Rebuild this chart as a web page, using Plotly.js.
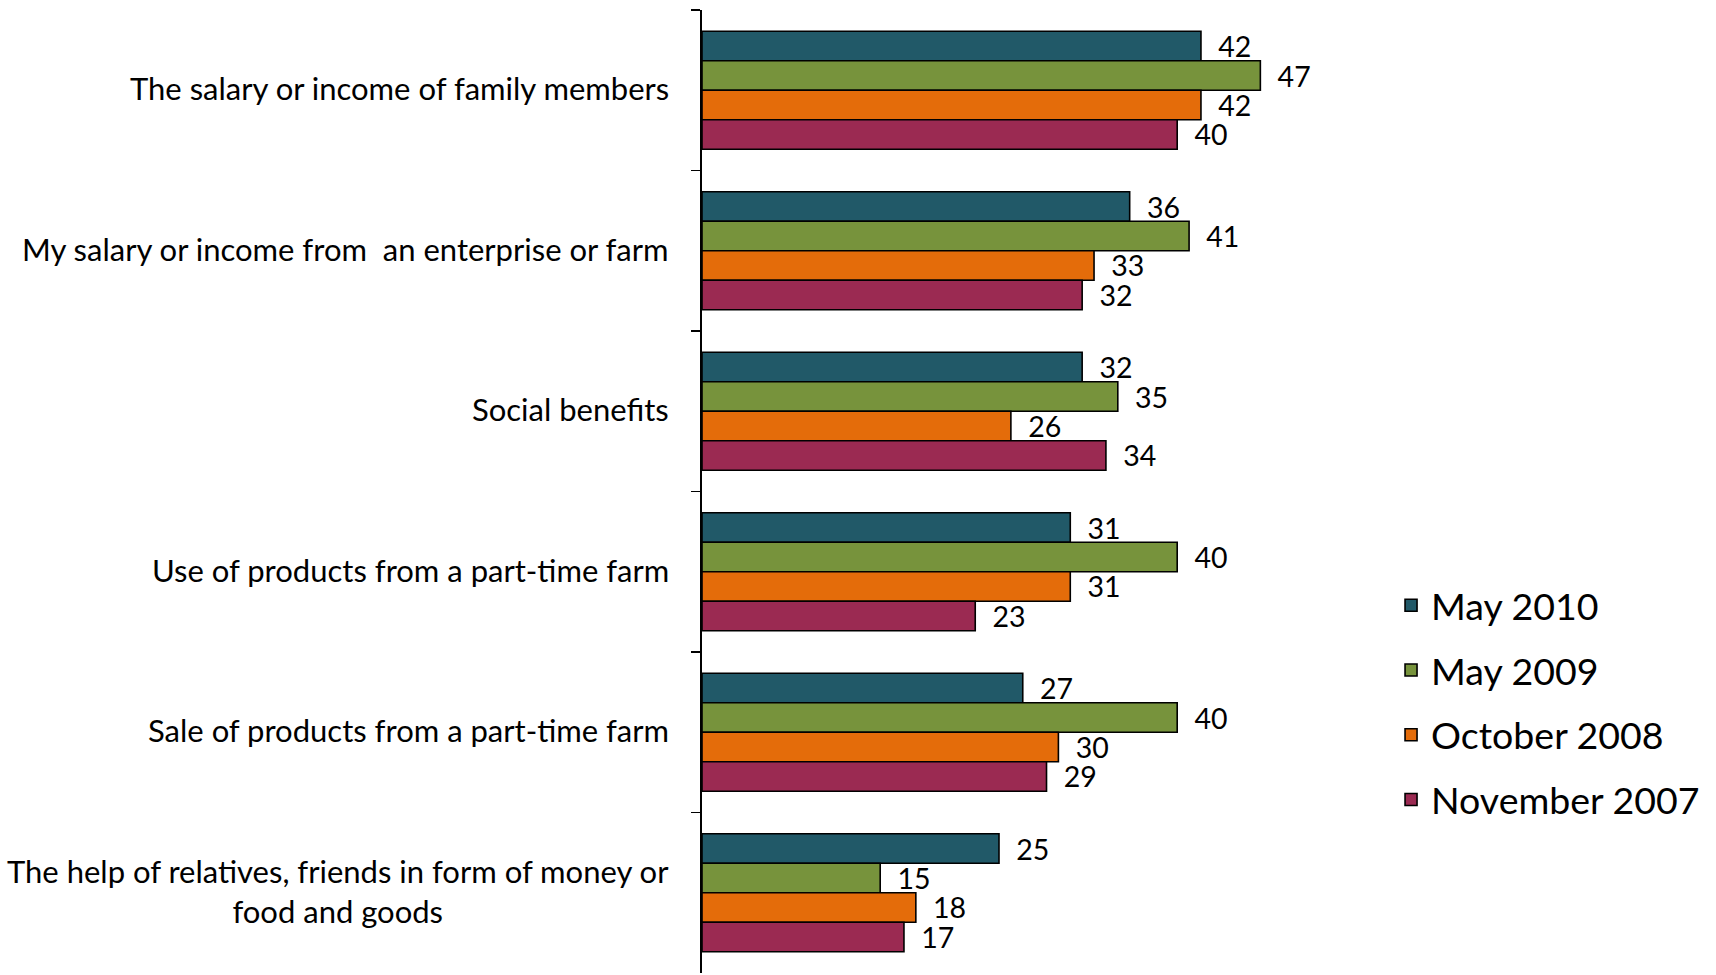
<!DOCTYPE html>
<html>
<head>
<meta charset="utf-8">
<script src="https://cdn.plot.ly/plotly-3.0.1.min.js"></script>
<style>html,body{margin:0;padding:0;background:#fff;}#chart{width:1716px;height:975px;}</style>
</head>
<body>
<div id="chart"></div>
<script>
const categories = [
  "The salary or income of family members",
  "My salary or income from  an enterprise or farm",
  "Social benefits",
  "Use of products from a part-time farm",
  "Sale of products from a part-time farm",
  "The help of relatives, friends in form of money or<br>food and goods"
];
const seriesNames = ["May 2010", "May 2009", "October 2008", "November 2007"];
const may2010 = [42, 36, 32, 31, 27, 25];
const may2009 = [47, 41, 35, 40, 40, 15];
const oct2008 = [42, 33, 26, 31, 30, 18];
const nov2007 = [40, 32, 34, 23, 29, 17];
const seriesValues = [may2010, may2009, oct2008, nov2007];
const colors = ["#215968", "#77933C", "#E46C0A", "#9B2A52"];

const FONT = "Lato, 'Open Sans', sans-serif";

const traces = seriesValues.map((vals, i) => ({
  type: "bar",
  orientation: "h",
  name: seriesNames[i],
  y: categories,
  x: vals,
  legendgroup: "g" + i,
  marker: {color: colors[i], line: {color: "#000", width: 1.6}},
  text: vals.map(v => String(v)),
  texttemplate: "\u2002%{text}",
  textposition: "outside",
  constraintext: "none",
  cliponaxis: false,
  textfont: {family: FONT, size: 28.5, color: "#000"},
  hoverinfo: "x+name"
}));

const annotations = categories.map(c => ({
  xref: "paper", yref: "y",
  x: 0, y: c,
  xanchor: "right", yanchor: "middle",
  xshift: -31, yshift: 2,
  align: "center",
  showarrow: false,
  text: c,
  font: {family: FONT, size: 31, color: "#000"}
}));

const layout = {
  width: 1716, height: 975,
  margin: {l: 702, r: 420, t: 10, b: 2, pad: 0},
  paper_bgcolor: "#fff", plot_bgcolor: "#fff",
  barmode: "group",
  bargap: 0.265,
  bargroupgap: 0,
  xaxis: {range: [0, 50], visible: false, fixedrange: true},
  yaxis: {
    type: "category",
    autorange: "reversed",
    showticklabels: false,
    showline: true, linecolor: "#000", linewidth: 1.6,
    ticks: "outside", ticklen: 9, tickwidth: 1.6, tickcolor: "#000",
    tickson: "boundaries",
    showgrid: false, zeroline: false
  },
  showlegend: true,
  legend: {
    x: 1.16, xanchor: "left",
    y: 0.281, yanchor: "middle",
    traceorder: "grouped",
    tracegroupgap: 13,
    font: {family: FONT, size: 37.5, color: "#000"},
    bgcolor: "rgba(0,0,0,0)"
  },
  annotations: annotations,
  font: {family: FONT}
};

Plotly.newPlot("chart", traces, layout, {displayModeBar: false, staticPlot: true});
</script>
</body>
</html>
